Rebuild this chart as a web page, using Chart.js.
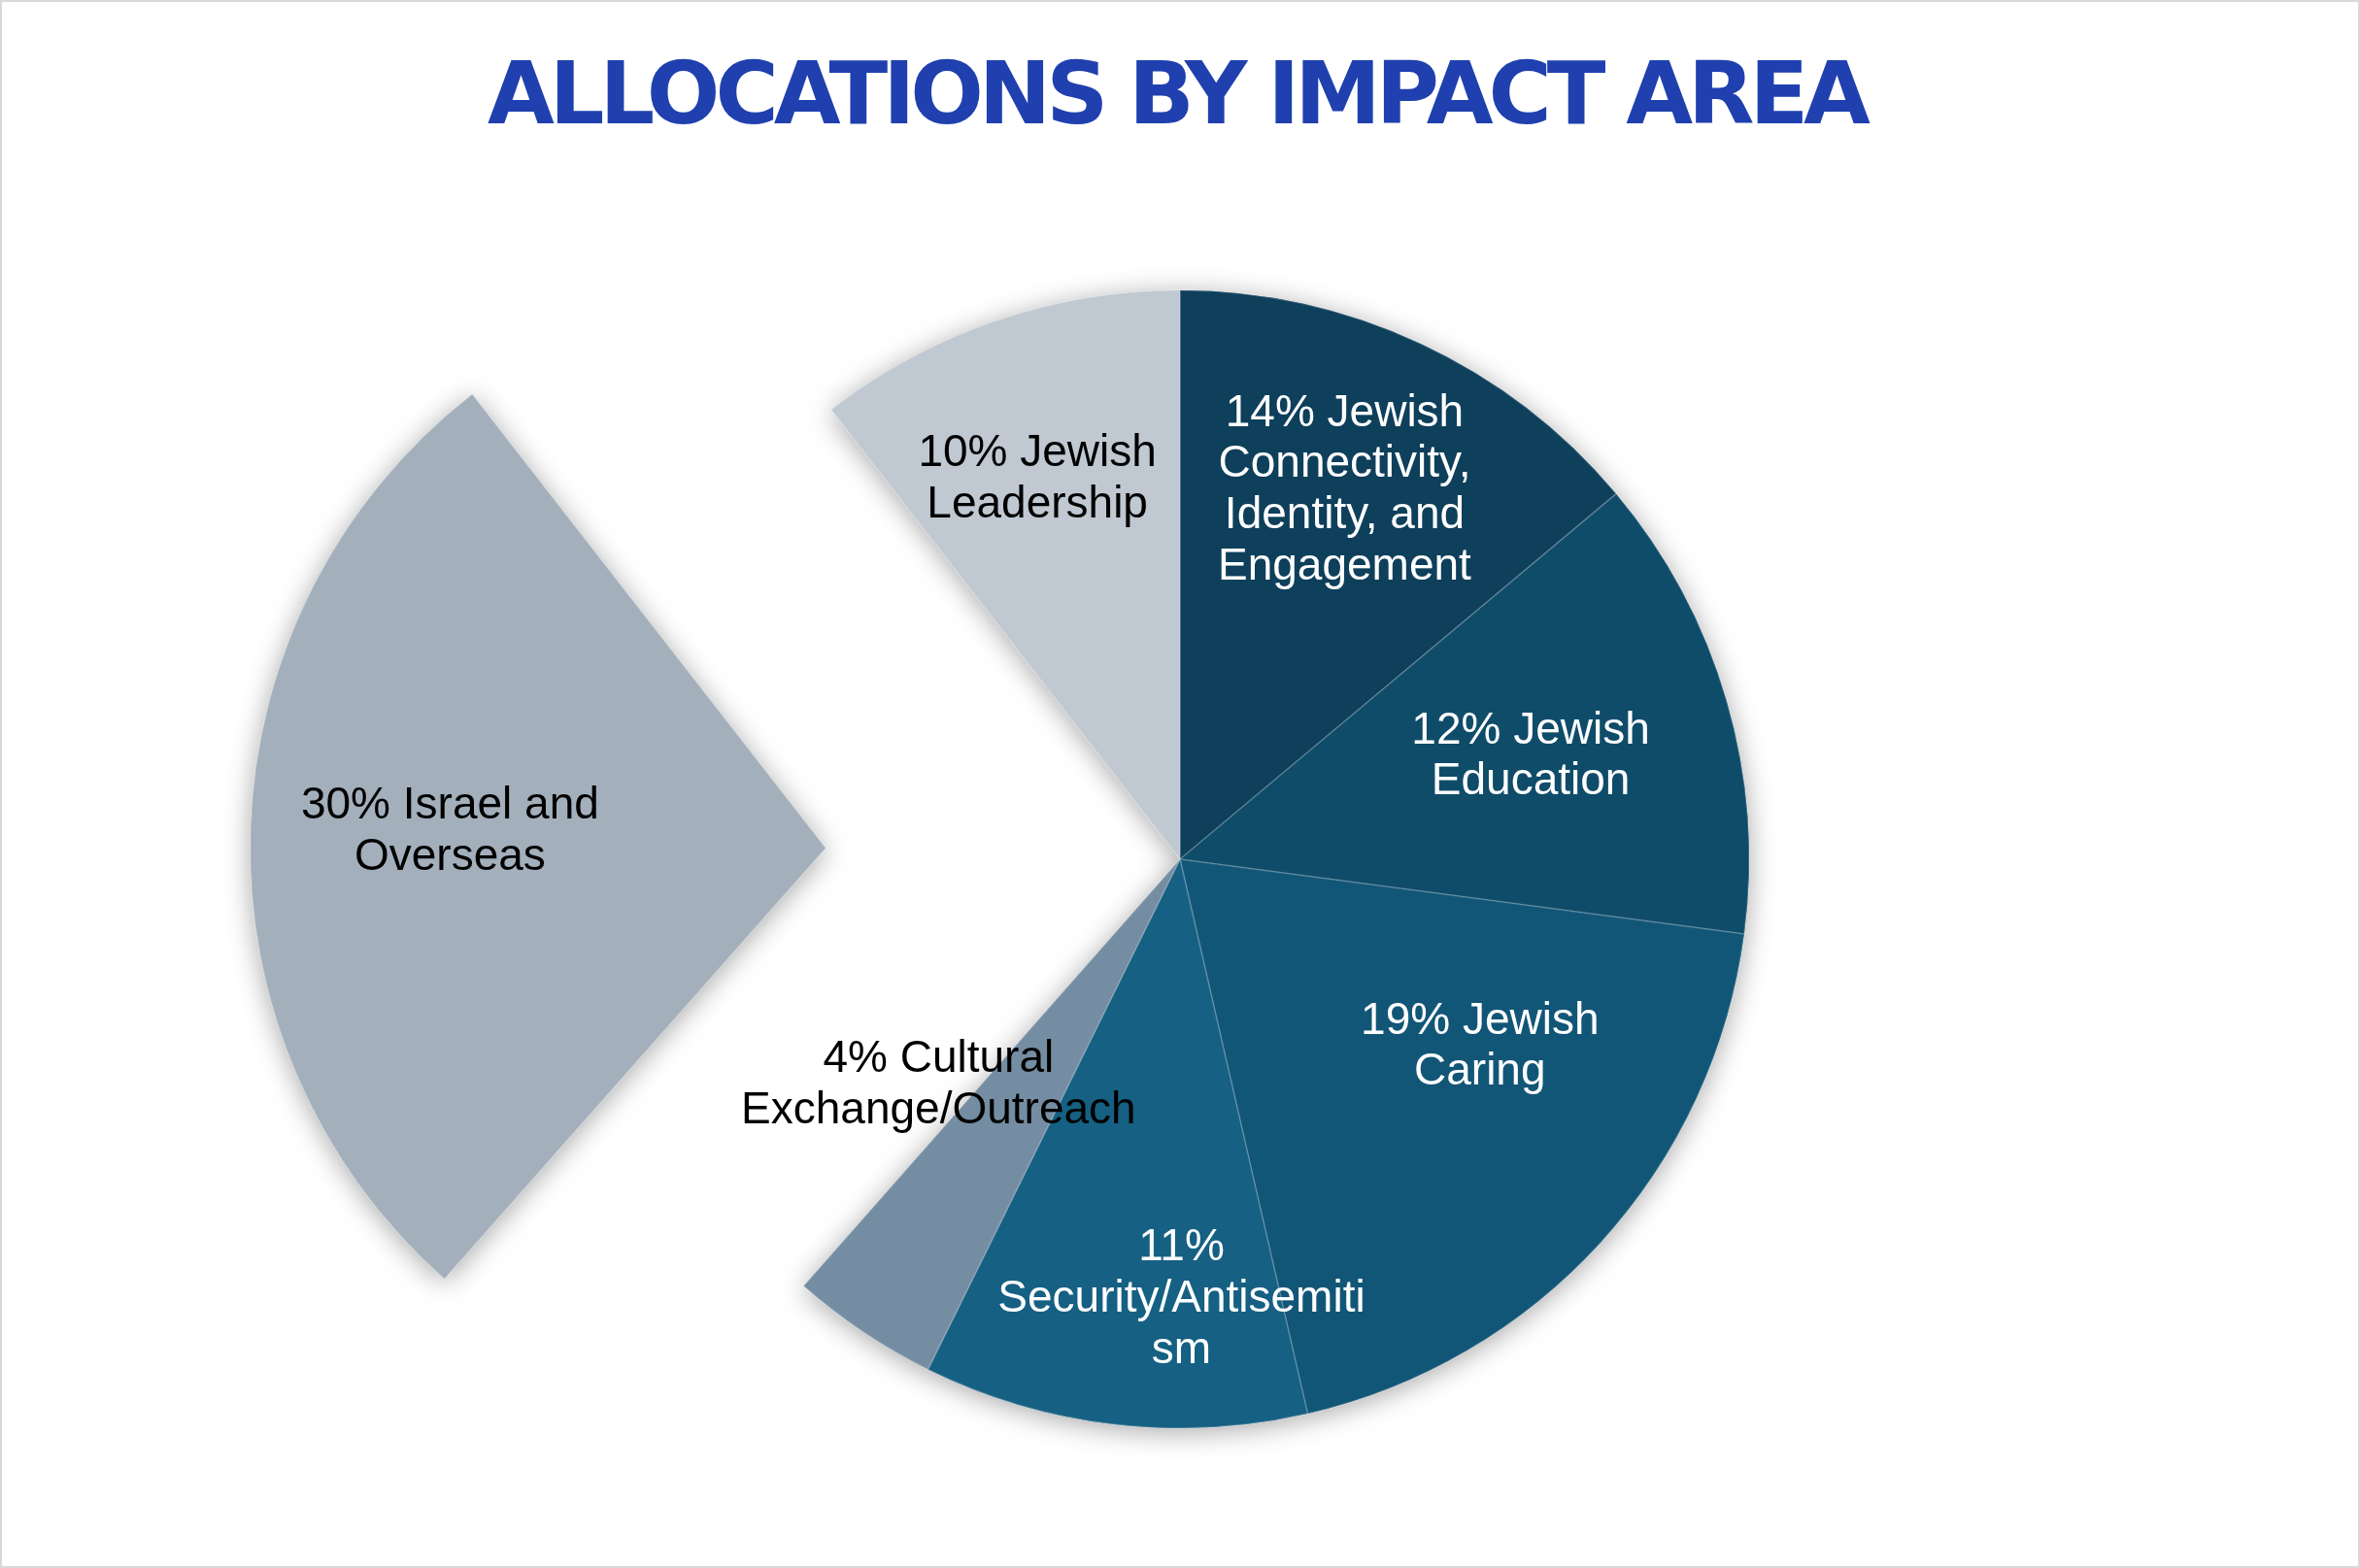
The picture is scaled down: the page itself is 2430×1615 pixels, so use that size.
<!DOCTYPE html>
<html>
<head>
<meta charset="utf-8">
<title>Allocations by Impact Area</title>
<script src="https://cdn.jsdelivr.net/npm/chart.js@4.4.1/dist/chart.umd.min.js"></script>
<style>
  html, body { margin: 0; padding: 0; background: #fff; }
  #wrap { width: 2430px; height: 1615px; position: relative; }
</style>
</head>
<body>
<div id="wrap"><canvas id="myChart"></canvas></div>
<script>
const titleText = 'ALLOCATIONS BY IMPACT AREA';

const categories = [
  'Jewish Connectivity, Identity, and Engagement',
  'Jewish Education',
  'Jewish Caring',
  'Security/Antisemitism',
  'Cultural Exchange/Outreach',
  'Israel and Overseas',
  'Jewish Leadership'
];
// slice sizes as drawn (percent of the circle)
const shares = [13.9, 13.2, 19.3, 10.9, 4.2, 28.0, 10.5];
// label text as printed, already wrapped
const labelLines = [
  ['14% Jewish', 'Connectivity,', 'Identity, and', 'Engagement'],
  ['12% Jewish', 'Education'],
  ['19% Jewish', 'Caring'],
  ['11%', 'Security/Antisemiti', 'sm'],
  ['4% Cultural', 'Exchange/Outreach'],
  ['30% Israel and', 'Overseas'],
  ['10% Jewish', 'Leadership']
];

const sliceColors = ['#0e3f5b', '#0f4c69', '#125677', '#156083', '#758da2', '#a3afbb', '#c0c8d1'];
const labelColors = ['#ffffff', '#ffffff', '#ffffff', '#ffffff', '#000000', '#000000', '#000000'];
const sliceOffsets = [0, 0, 0, 0, 0, 1460, 0]; // chart.js moves the arc by offset/4
// where each label sits: turn (deg) from the slice middle, distance as share of radius
const labelAnchors = [
  { da: -1.2, r: 0.716 },
  { da: -0.7, r: 0.644 },
  { da: -10.8, r: 0.618 },
  { da: -6.85, r: 0.767 },
  { da: 13.5, r: 0.577 },
  { da: 1.25, r: 0.661 },
  { da: -1.5, r: 0.719 }
];

// white page, thin frame and the title
const frame = {
  id: 'frame',
  beforeDraw(chart) {
    const ctx = chart.ctx;
    ctx.save();
    ctx.fillStyle = '#ffffff';
    ctx.fillRect(0, 0, chart.width, chart.height);
    ctx.strokeStyle = '#d9d9d9';
    ctx.lineWidth = 2;
    ctx.strokeRect(1, 1, chart.width - 2, chart.height - 2);

    ctx.font = 'bold 89px "DejaVu Sans", sans-serif';
    ctx.fillStyle = '#1f40ae';
    ctx.textAlign = 'left';
    ctx.textBaseline = 'alphabetic';
    const w = ctx.measureText(titleText).width;
    ctx.letterSpacing = ((1424 - w) / (titleText.length - 1)) + 'px';
    ctx.fillText(titleText, 502, 127);
    ctx.restore();
  }
};

// soft shadow under the slices, drawn first so it never shows between them
const arcShadow = {
  id: 'arcShadow',
  beforeDatasetsDraw(chart) {
    const ctx = chart.ctx;
    ctx.save();
    ctx.shadowColor = 'rgba(0, 0, 0, 0.35)';
    ctx.shadowBlur = 28;
    ctx.shadowOffsetY = 4;
    chart.getDatasetMeta(0).data.forEach(arc => arc.draw(ctx));
    ctx.restore();
  }
};

const sliceLabels = {
  id: 'sliceLabels',
  afterDatasetsDraw(chart) {
    const ctx = chart.ctx;
    const arcs = chart.getDatasetMeta(0).data;
    const lh = 52.8;
    ctx.save();
    ctx.font = '46px "Liberation Sans", Arial, sans-serif';
    ctx.textAlign = 'center';
    ctx.textBaseline = 'middle';
    arcs.forEach((arc, i) => {
      const p = arc.getProps(['x', 'y', 'startAngle', 'endAngle', 'outerRadius']);
      const mid = (p.startAngle + p.endAngle) / 2;
      const shift = (arc.options.offset || 0) / 4;
      const a = mid + labelAnchors[i].da * Math.PI / 180;
      const dist = p.outerRadius * labelAnchors[i].r;
      const cx = p.x + Math.cos(mid) * shift + Math.cos(a) * dist;
      const cy = p.y + Math.sin(mid) * shift + Math.sin(a) * dist + 4;
      const lines = labelLines[i];
      ctx.fillStyle = labelColors[i];
      lines.forEach((t, k) => {
        ctx.fillText(t, cx, cy + (k - (lines.length - 1) / 2) * lh);
      });
    });
    ctx.restore();
  }
};

const ctx = document.getElementById('myChart').getContext('2d');

new Chart(ctx, {
  type: 'pie',
  data: {
    labels: categories,
    datasets: [{
      data: shares,
      backgroundColor: sliceColors,
      borderColor: 'rgba(255, 255, 255, 0.2)',
      borderWidth: 1.5,
      offset: sliceOffsets,
      hoverOffset: 0,
      radius: 586
    }]
  },
  options: {
    responsive: true,
    maintainAspectRatio: false,
    animation: false,
    events: [],
    cutout: '0%',
    layout: { padding: { top: 155 } },
    plugins: {
      legend: { display: false },
      tooltip: { enabled: false },
      title: { display: false }
    }
  },
  plugins: [frame, arcShadow, sliceLabels]
});
</script>
</body>
</html>
